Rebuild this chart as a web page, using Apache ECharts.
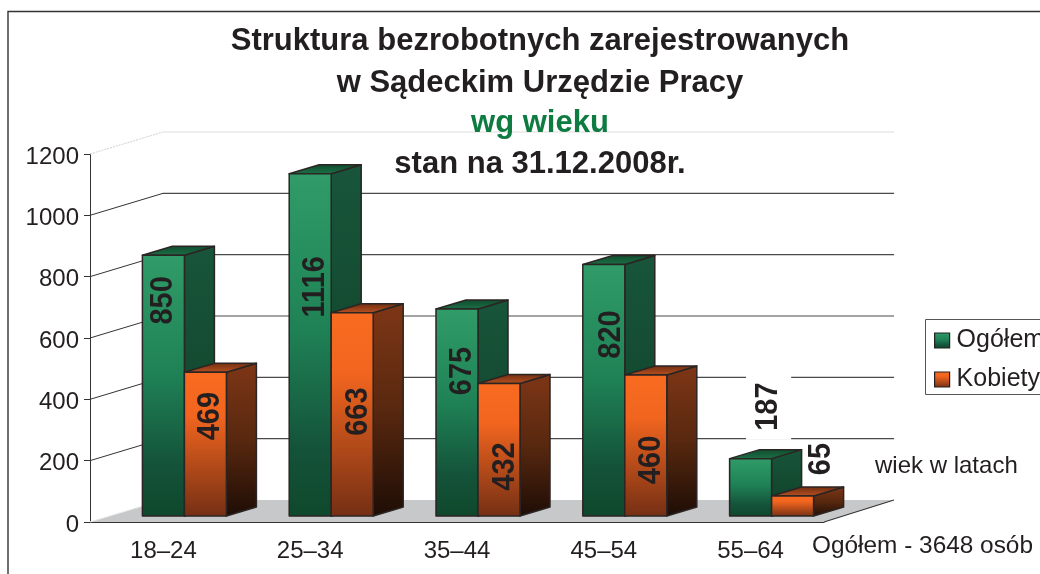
<!DOCTYPE html>
<html>
<head>
<meta charset="utf-8">
<script src="https://cdn.jsdelivr.net/npm/echarts@6/dist/echarts.min.js"></script>
<style>
    html, body { margin: 0; padding: 0; background: #fff; }
    #main { width: 1040px; height: 574px; }
</style>
</head>
<body>
<div id="main"></div>
<script>
    var categories = ['18–24', '25–34', '35–44', '45–54', '55–64'];
    var ogolem = [850, 1116, 675, 820, 187];
    var kobiety = [469, 663, 432, 460, 65];
    var yTicks = [0, 200, 400, 600, 800, 1000, 1200];

    var FONT = '"Liberation Sans", Arial, sans-serif';
    var INK = '#231f20';

    // pseudo 3d: how far the back wall and each bar are pushed into the depth
    var WALL_DX = 73, WALL_DY = -22;
    var BAR_W = 42, BAR_DX = 30, BAR_DY = -9, BAR_BASE = -6, BAR_SHIFT = 21;

    // label nudges from the middle of the bar front / its top edge, px
    var labelNudgeOgolem = [[0, 45], [5, 113], [5, 62], [7, 70], [18, -52]];
    var labelNudgeKobiety = [[5, 44], [6, 99], [6, 83], [5, 85], [29, -37]];

    function grad(stops) {
        return new echarts.graphic.LinearGradient(0, 0, 0, 1, stops.map(function (s) {
            return { offset: s[0], color: s[1] };
        }));
    }

    var greenFaces = {
        front: [[0, '#309c68'], [0.45, '#1f8256'], [0.8, '#14533a'], [1, '#0f482c']],
        side: [[0, '#18553a'], [1, '#0e3f27']],
        top: [[0, '#0f4a2c'], [1, '#1d7249']]
    };
    var orangeFaces = {
        front: [[0, '#f86b20'], [0.3, '#f2651f'], [1, '#742f14']],
        side: [[0, '#7e3616'], [0.5, '#58280f'], [1, '#1e0d06']],
        top: [[0, '#6d2d12'], [1, '#bb5220']]
    };

    function barRenderer(faces, side, nudges) {
        return function (params, api) {
            var i = api.value(0);
            var v = api.value(1);
            var base = api.coord([i, 0]);
            var top = api.coord([i, v]);
            var left = base[0] + BAR_SHIFT + (side < 0 ? -BAR_W : 0);
            var right = left + BAR_W;
            var by = base[1] + BAR_BASE;
            var ty = top[1] + BAR_BASE;
            var stroke = { stroke: '#2b2523', lineWidth: 1.5, lineJoin: 'round' };
            function poly(points, stops) {
                return {
                    type: 'polygon',
                    shape: { points: points },
                    style: Object.assign({ fill: grad(stops) }, stroke)
                };
            }
            var nudge = nudges[i];
            var knockout = v < 200 && v > 100;
            return {
                type: 'group',
                children: [
                    poly([[right, ty], [right + BAR_DX, ty + BAR_DY], [right + BAR_DX, by + BAR_DY], [right, by]], faces.side),
                    poly([[left, ty], [left + BAR_DX, ty + BAR_DY], [right + BAR_DX, ty + BAR_DY], [right, ty]], faces.top),
                    poly([[left, ty], [right, ty], [right, by], [left, by]], faces.front),
                    {
                        type: 'text',
                        x: (left + right) / 2 + nudge[0],
                        y: ty + nudge[1],
                        rotation: Math.PI / 2,
                        scaleY: 1.1,
                        z2: 10,
                        style: {
                            text: String(v),
                            fontFamily: FONT,
                            fontSize: 29,
                            fontWeight: 'bold',
                            fill: INK,
                            align: 'center',
                            verticalAlign: 'middle',
                            backgroundColor: knockout ? '#fff' : 'transparent',
                            padding: knockout ? [6, 9] : 0
                        }
                    }
                ]
            };
        };
    }

    // floor, side wall and back wall lines, one item per y tick
    function renderWall(params, api) {
        var v = api.value(0);
        var sys = params.coordSys;
        var p = api.coord([0, v]);
        var x0 = sys.x;
        var x1 = sys.x + sys.width;
        var children = [];
        if (v === 0) {
            children.push({
                type: 'polygon',
                shape: { points: [[x0, p[1]], [x0 + WALL_DX, p[1] + WALL_DY], [x1 + 70, p[1] + WALL_DY], [x1, p[1]]] },
                style: { fill: '#c7c8ca' }
            });
            children.push({
                type: 'line',
                shape: { x1: x0, y1: p[1], x2: x0 + WALL_DX, y2: p[1] + WALL_DY },
                style: { stroke: '#e6e6e6', lineWidth: 1.2, lineDash: [2, 1] }
            });
            children.push({
                type: 'line',
                shape: { x1: x1, y1: p[1], x2: x1 + 70, y2: p[1] + WALL_DY },
                style: { stroke: '#333', lineWidth: 1.1 }
            });
            return { type: 'group', children: children };
        }
        var isTop = v === yTicks[yTicks.length - 1];
        children.push({
            type: 'line',
            shape: { x1: x0, y1: p[1], x2: x0 + WALL_DX, y2: p[1] + WALL_DY },
            style: isTop
                ? { stroke: '#d9d9d9', lineWidth: 1.2, lineDash: [2, 1] }
                : { stroke: '#333', lineWidth: 1 }
        });
        children.push({
            type: 'line',
            shape: { x1: x0 + WALL_DX, y1: p[1] + WALL_DY, x2: x1 + 70, y2: p[1] + WALL_DY },
            style: { stroke: isTop ? '#dedede' : '#4a4a4a', lineWidth: 1.2 }
        });
        return { type: 'group', children: children };
    }

    function titleLine(text, y, size, color) {
        return {
            text: text,
            left: 540,
            top: y - size / 2,
            textAlign: 'center',
            padding: 0,
            textStyle: { fontFamily: FONT, fontSize: size, fontWeight: 'bold', color: color }
        };
    }

    var chart = echarts.init(document.getElementById('main'), null, { renderer: 'canvas' });

    chart.setOption({
        animation: false,
        backgroundColor: '#fff',
        title: [
            titleLine('Struktura bezrobotnych zarejestrowanych', 41, 31, INK),
            titleLine('w Sądeckim Urzędzie Pracy', 83, 31, INK),
            titleLine('wg wieku', 123, 31, '#0e7c41'),
            titleLine('stan na 31.12.2008r.', 164, 31, INK)
        ],
        legend: {
            orient: 'vertical',
            left: 925,
            top: 320,
            padding: [8, 8, 8, 9],
            itemWidth: 15,
            itemHeight: 15,
            itemGap: 14,
            textStyle: { fontFamily: FONT, fontSize: 25, color: INK, padding: [0, 0, 0, 2] },
            data: [
                { name: 'Ogółem', icon: 'rect', itemStyle: { color: grad(greenFaces.front), borderColor: '#222', borderWidth: 1.2 } },
                { name: 'Kobiety', icon: 'rect', itemStyle: { color: grad(orangeFaces.front), borderColor: '#222', borderWidth: 1.2 } }
            ]
        },
        grid: { left: 90, right: 216, top: 154, bottom: 52 },
        xAxis: {
            type: 'category',
            data: categories,
            axisLine: { lineStyle: { color: '#333', width: 1.2 } },
            axisTick: { length: 7, lineStyle: { color: '#333' } },
            axisLabel: { fontFamily: FONT, fontSize: 24, color: INK, margin: 17 }
        },
        yAxis: {
            type: 'value',
            min: 0,
            max: 1200,
            interval: 200,
            axisLine: { show: true, lineStyle: { color: '#333', width: 1 } },
            axisTick: { show: true, length: 6, lineStyle: { color: '#333' } },
            axisLabel: {
                color: INK,
                margin: 11,
                formatter: function (v) { return '{v|' + v + '}'; },
                rich: { v: { fontFamily: FONT, fontSize: 24, color: INK, padding: [6, 0, 0, 0] } }
            },
            splitLine: { show: false }
        },
        series: [{
            name: 'walls',
            type: 'custom',
            z: 1,
            silent: true,
            clip: false,
            data: yTicks.map(function (t) { return [t]; }),
            encode: { y: 0 },
            renderItem: renderWall
        }, {
            name: 'Ogółem',
            type: 'custom',
            z: 3,
            clip: false,
            data: ogolem.map(function (v, i) { return [i, v]; }),
            encode: { x: 0, y: 1 },
            renderItem: barRenderer(greenFaces, -1, labelNudgeOgolem)
        }, {
            name: 'Kobiety',
            type: 'custom',
            z: 4,
            clip: false,
            data: kobiety.map(function (v, i) { return [i, v]; }),
            encode: { x: 0, y: 1 },
            renderItem: barRenderer(orangeFaces, 1, labelNudgeKobiety)
        }],
        graphic: [{
            type: 'polyline',
            z: 0,
            silent: true,
            shape: { points: [[8, 574], [8, 11.5], [1040, 11.5]] },
            style: { fill: 'none', stroke: '#333', lineWidth: 1.4 }
        }, {
            // legend frame runs off the right edge of the picture
            type: 'rect',
            z: 0,
            silent: true,
            shape: { x: 925.5, y: 319.5, width: 130, height: 75 },
            style: { fill: '#fff', stroke: '#555', lineWidth: 1 }
        }, {
            type: 'text',
            x: 875,
            y: 466,
            style: { text: 'wiek w latach', fontFamily: FONT, fontSize: 24, fill: INK, verticalAlign: 'middle' }
        }, {
            type: 'text',
            x: 812,
            y: 546,
            style: { text: 'Ogółem - 3648 osób', fontFamily: FONT, fontSize: 24.4, fill: INK, verticalAlign: 'middle' }
        }]
    });

    window.onresize = chart.resize;
</script>
</body>
</html>
